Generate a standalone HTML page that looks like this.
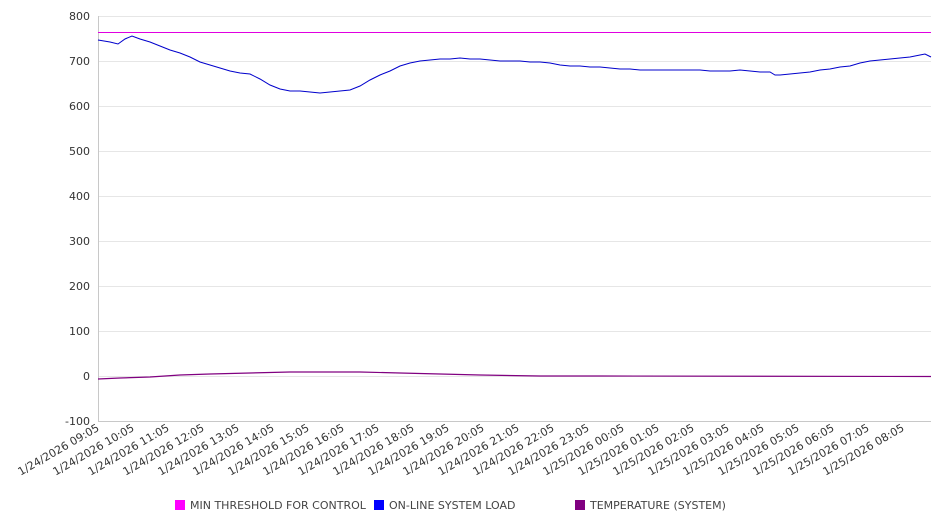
<!DOCTYPE html>
<html><head><meta charset="utf-8"><style>body{margin:0;background:#fff}svg{display:block;font-family:"DejaVu Sans","Liberation Sans",sans-serif}</style></head><body>
<svg width="946" height="526" xmlns="http://www.w3.org/2000/svg">
<g stroke="#e6e6e6" stroke-width="1">
<line x1="98" x2="931" y1="16.5" y2="16.5"/><line x1="98" x2="931" y1="61.5" y2="61.5"/><line x1="98" x2="931" y1="106.5" y2="106.5"/><line x1="98" x2="931" y1="151.5" y2="151.5"/><line x1="98" x2="931" y1="196.5" y2="196.5"/><line x1="98" x2="931" y1="241.5" y2="241.5"/><line x1="98" x2="931" y1="286.5" y2="286.5"/><line x1="98" x2="931" y1="331.5" y2="331.5"/><line x1="98" x2="931" y1="376.5" y2="376.5"/>
</g>
<line x1="98.5" x2="98.5" y1="16" y2="421" stroke="#c8c8c8"/>
<line x1="98" x2="931" y1="421.5" y2="421.5" stroke="#c8c8c8"/>
<g font-size="11" fill="#333" text-anchor="end">
<text x="90" y="20">800</text><text x="90" y="65">700</text><text x="90" y="110">600</text><text x="90" y="155">500</text><text x="90" y="200">400</text><text x="90" y="245">300</text><text x="90" y="290">200</text><text x="90" y="335">100</text><text x="90" y="380">0</text><text x="90" y="425">-100</text>
</g>
<g font-size="11" fill="#333" text-anchor="end" id="xl"></g>
<line x1="98" x2="931" y1="32.5" y2="32.5" stroke="#e000e0" stroke-width="1"/>
<polyline fill="none" stroke="#0000cc" stroke-width="1" points="98,40 110,42 118,44 125,39 132,36 140,39 150,42 160,46 170,50 180,53 190,57 200,62 210,65 220,68 230,71 240,73 250,74 260,79 270,85 280,89 290,91 300,91 310,92 320,93 330,92 340,91 350,90 360,86 370,80 380,75 390,71 400,66 410,63 420,61 430,60 440,59 450,59 460,58 470,59 480,59 490,60 500,61 510,61 520,61 530,62 540,62 550,63 560,65 570,66 580,66 590,67 600,67 610,68 620,69 630,69 640,70 650,70 660,70 670,70 680,70 690,70 700,70 710,71 720,71 730,71 740,70 750,71 760,72 770,72 775,75 780,75 790,74 800,73 810,72 820,70 830,69 840,67 850,66 860,63 870,61 880,60 890,59 900,58 910,57 920,55 925,54 931,57"/>
<polyline fill="none" stroke="#800080" stroke-width="1.2" points="98,379 120,378 150,377 180,375 210,374 250,373 290,372 360,372 400,373 440,374 480,375 540,376 600,376 931,376.5"/>
<g font-size="11" fill="#444">
<rect x="175" y="500" width="10" height="10" fill="#ff00ff"/><text x="190" y="509">MIN THRESHOLD FOR CONTROL</text>
<rect x="374" y="500" width="10" height="10" fill="#0000ff"/><text x="389" y="509">ON-LINE SYSTEM LOAD</text>
<rect x="575" y="500" width="10" height="10" fill="#800080"/><text x="590" y="509">TEMPERATURE (SYSTEM)</text>
</g>
<g font-size="11" fill="#333" text-anchor="end">
<text transform="translate(100,430) rotate(-30)">1/24/2026 09:05</text>
<text transform="translate(135,430) rotate(-30)">1/24/2026 10:05</text>
<text transform="translate(170,430) rotate(-30)">1/24/2026 11:05</text>
<text transform="translate(205,430) rotate(-30)">1/24/2026 12:05</text>
<text transform="translate(240,430) rotate(-30)">1/24/2026 13:05</text>
<text transform="translate(275,430) rotate(-30)">1/24/2026 14:05</text>
<text transform="translate(310,430) rotate(-30)">1/24/2026 15:05</text>
<text transform="translate(345,430) rotate(-30)">1/24/2026 16:05</text>
<text transform="translate(380,430) rotate(-30)">1/24/2026 17:05</text>
<text transform="translate(415,430) rotate(-30)">1/24/2026 18:05</text>
<text transform="translate(450,430) rotate(-30)">1/24/2026 19:05</text>
<text transform="translate(485,430) rotate(-30)">1/24/2026 20:05</text>
<text transform="translate(520,430) rotate(-30)">1/24/2026 21:05</text>
<text transform="translate(555,430) rotate(-30)">1/24/2026 22:05</text>
<text transform="translate(590,430) rotate(-30)">1/24/2026 23:05</text>
<text transform="translate(625,430) rotate(-30)">1/25/2026 00:05</text>
<text transform="translate(660,430) rotate(-30)">1/25/2026 01:05</text>
<text transform="translate(695,430) rotate(-30)">1/25/2026 02:05</text>
<text transform="translate(730,430) rotate(-30)">1/25/2026 03:05</text>
<text transform="translate(765,430) rotate(-30)">1/25/2026 04:05</text>
<text transform="translate(800,430) rotate(-30)">1/25/2026 05:05</text>
<text transform="translate(835,430) rotate(-30)">1/25/2026 06:05</text>
<text transform="translate(870,430) rotate(-30)">1/25/2026 07:05</text>
<text transform="translate(905,430) rotate(-30)">1/25/2026 08:05</text>
</g>
</svg>
</body></html>
